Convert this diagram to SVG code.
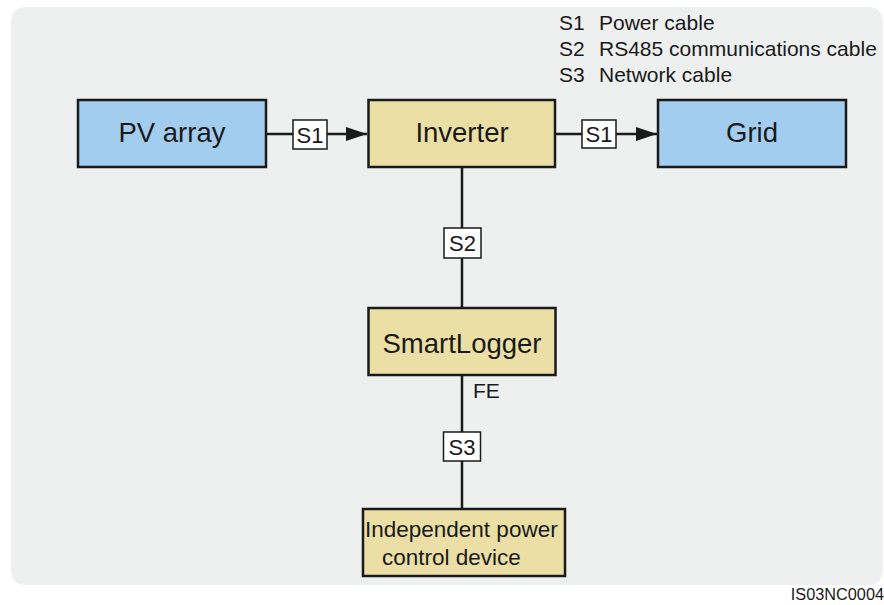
<svg xmlns="http://www.w3.org/2000/svg" width="884" height="605" viewBox="0 0 884 605">
<defs>
<style>
text{font-family:"Liberation Sans",Arial,sans-serif;fill:#1a1a1a}
.box{stroke:#1a1a1a;stroke-width:2.5}
.blue{fill:#a3cdef}
.tan{fill:#ebdfa6}
.node{font-size:27.5px;text-anchor:middle}
.lbl{fill:#ffffff;stroke:#1a1a1a;stroke-width:1.5}
.lt{font-size:22px;text-anchor:middle}
.wire{stroke:#1a1a1a;stroke-width:2.5;fill:none}
.leg{font-size:21px}
</style>
<marker id="arr" markerUnits="userSpaceOnUse" markerWidth="22" markerHeight="16" refX="21" refY="7" orient="auto">
<path d="M0,0 L21,7 L0,14 Z" fill="#1a1a1a"/>
</marker>
</defs>
<rect x="11" y="7" width="872" height="578" rx="14" fill="#eeefef"/>
<g id="legend">
<text class="leg" x="559" y="30">S1</text><text class="leg" x="599" y="30">Power cable</text>
<text class="leg" x="559" y="56">S2</text><text class="leg" x="599" y="56">RS485 communications cable</text>
<text class="leg" x="559" y="82">S3</text><text class="leg" x="599" y="82">Network cable</text>
</g>
<g id="connectors">
<line class="wire" x1="266" y1="134" x2="367" y2="134" marker-end="url(#arr)"/>
<line class="wire" x1="555" y1="134" x2="657" y2="134" marker-end="url(#arr)"/>
<line class="wire" x1="462" y1="167" x2="462" y2="308"/>
<line class="wire" x1="462" y1="375" x2="462" y2="509"/>
<rect class="lbl" x="293" y="120" width="34" height="29"/><text class="lt" x="310" y="142.5">S1</text>
<rect class="lbl" x="582" y="120" width="34" height="28"/><text class="lt" x="599" y="142">S1</text>
<rect class="lbl" x="444" y="228" width="37" height="30"/><text class="lt" x="462.5" y="251">S2</text>
<rect class="lbl" x="443.5" y="432" width="37" height="29"/><text class="lt" x="462" y="454.5">S3</text>
<text x="473" y="398" font-size="21">FE</text>
</g>
<g id="pv-array">
<rect class="box blue" x="78" y="100" width="188" height="67"/>
<text class="node" x="172" y="142">PV array</text>
</g>
<g id="inverter">
<rect class="box tan" x="368.5" y="100" width="186.5" height="67"/>
<text class="node" x="462" y="142">Inverter</text>
</g>
<g id="grid">
<rect class="box blue" x="658" y="100" width="188" height="67"/>
<text class="node" x="752" y="142">Grid</text>
</g>
<g id="smartlogger">
<rect class="box tan" x="368.5" y="308" width="187" height="67"/>
<text class="node" x="462" y="353" font-size="28">SmartLogger</text>
</g>
<g id="independent-power-control-device">
<rect class="box tan" x="363" y="509" width="202" height="67"/>
<text x="365" y="537" font-size="22.5">Independent power</text>
<text x="382" y="565" font-size="22.5">control device</text>
</g>
<text x="884" y="600" font-size="16.3" text-anchor="end">IS03NC0004</text>
</svg>
